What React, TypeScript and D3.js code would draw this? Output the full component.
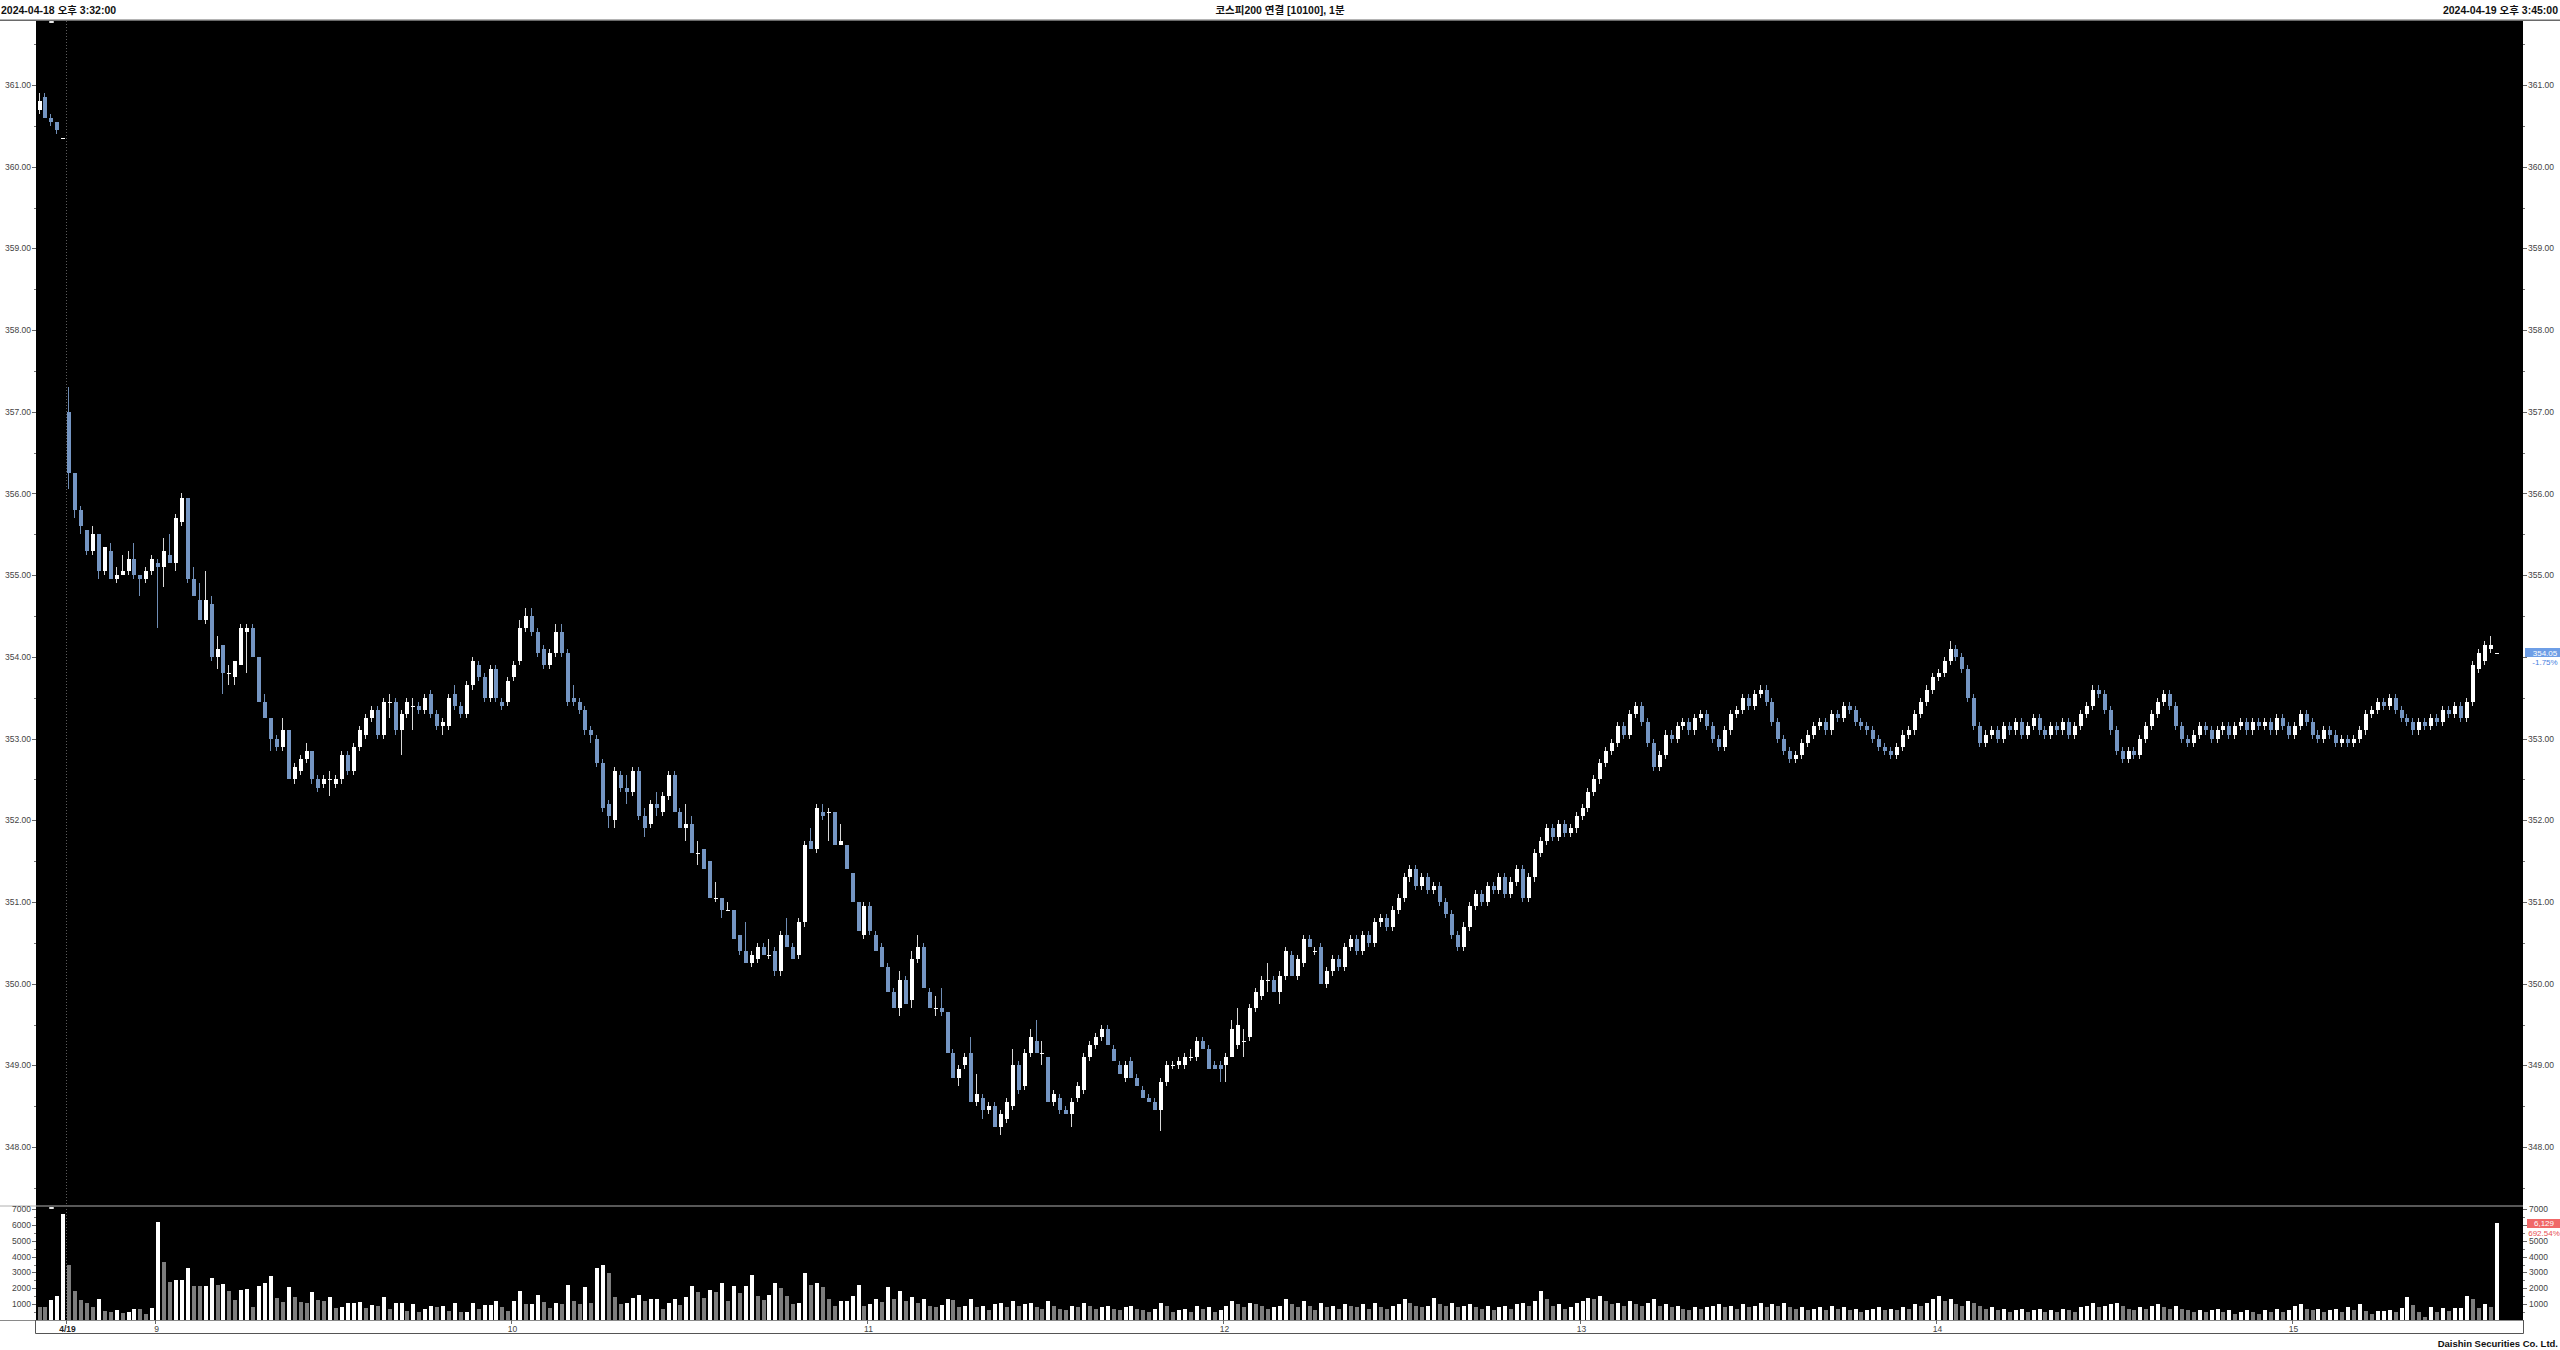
import React from 'react';
import * as d3 from 'd3';

// [open, high, low, close, volume] per 1-minute bar, grouped by session hour
type Bar = [number, number, number, number, number];

const barsPrevDay: Bar[] = [
  [360.70, 360.90, 360.65, 360.80, 840],
  [360.85, 360.90, 360.60, 360.60, 800],
  [360.60, 360.65, 360.50, 360.55, 1260],
  [360.55, 360.55, 360.40, 360.45, 1510],
  [360.35, 360.35, 360.35, 360.35, 6680],
];

const bars0845: Bar[] = [
  [357.00, 357.30, 356.05, 356.25, 3470],
  [356.25, 356.25, 355.70, 355.80, 1830],
  [355.80, 355.85, 355.50, 355.60, 1260],
  [355.55, 355.55, 355.25, 355.30, 1050],
  [355.30, 355.60, 355.25, 355.50, 820],
  [355.50, 355.50, 354.95, 355.05, 1330],
  [355.05, 355.35, 355.00, 355.35, 570],
  [355.30, 355.40, 354.95, 354.95, 500],
  [354.95, 355.10, 354.90, 355.00, 610],
  [355.00, 355.25, 355.00, 355.05, 420],
  [355.05, 355.30, 355.00, 355.20, 530],
  [355.20, 355.40, 354.95, 355.00, 690],
  [355.00, 355.00, 354.75, 354.95, 670],
  [354.95, 355.10, 354.90, 355.05, 360],
  [355.05, 355.25, 355.00, 355.20, 780],
];

const bars0900: Bar[] = [
  [355.15, 355.20, 354.35, 355.10, 6180],
  [355.10, 355.45, 354.85, 355.30, 3680],
  [355.25, 355.50, 355.15, 355.15, 2400],
  [355.15, 355.75, 355.05, 355.70, 2540],
  [355.65, 356.00, 355.60, 355.95, 2540],
  [355.95, 355.95, 354.90, 354.95, 3300],
  [354.95, 355.10, 354.75, 354.75, 2150],
  [354.70, 354.90, 354.45, 354.45, 2120],
  [354.45, 355.05, 354.40, 354.70, 2160],
  [354.65, 354.75, 353.95, 354.00, 2630],
  [354.00, 354.25, 353.85, 354.10, 2210],
  [354.15, 354.15, 353.55, 353.80, 2270],
  [353.80, 353.90, 353.65, 353.80, 1830],
  [353.75, 353.95, 353.65, 353.95, 1290],
  [353.90, 354.40, 353.90, 354.35, 1870],
  [354.30, 354.40, 353.80, 354.35, 1950],
  [354.35, 354.40, 354.00, 354.00, 820],
  [354.00, 354.00, 353.45, 353.45, 2120],
  [353.45, 353.55, 353.25, 353.25, 2330],
  [353.25, 353.25, 352.85, 353.00, 2750],
  [353.00, 353.05, 352.85, 352.90, 1410],
  [352.90, 353.25, 352.85, 353.10, 1160],
  [353.10, 353.10, 352.50, 352.50, 2080],
  [352.50, 352.70, 352.45, 352.65, 1450],
  [352.60, 352.80, 352.55, 352.75, 1130],
  [352.75, 352.95, 352.70, 352.85, 1050],
  [352.85, 352.85, 352.45, 352.50, 1750],
  [352.50, 352.55, 352.35, 352.40, 1260],
  [352.45, 352.55, 352.40, 352.50, 1220],
  [352.50, 352.60, 352.30, 352.50, 1430],
  [352.45, 352.55, 352.40, 352.50, 760],
  [352.50, 352.85, 352.45, 352.80, 820],
  [352.80, 352.85, 352.55, 352.60, 1050],
  [352.60, 352.95, 352.55, 352.90, 1090],
  [352.90, 353.15, 352.85, 353.10, 1110],
  [353.05, 353.30, 353.00, 353.25, 760],
  [353.25, 353.40, 353.20, 353.35, 950],
  [353.35, 353.40, 353.00, 353.05, 860],
  [353.05, 353.50, 353.00, 353.45, 1430],
  [353.45, 353.55, 353.25, 353.45, 670],
  [353.45, 353.50, 353.05, 353.10, 1090],
  [353.10, 353.35, 352.80, 353.30, 1090],
  [353.30, 353.50, 353.25, 353.45, 550],
  [353.40, 353.50, 353.10, 353.40, 990],
  [353.40, 353.45, 353.30, 353.35, 500],
  [353.35, 353.55, 353.30, 353.50, 710],
  [353.55, 353.60, 353.25, 353.30, 860],
  [353.30, 353.35, 353.10, 353.15, 840],
  [353.15, 353.25, 353.05, 353.20, 860],
  [353.15, 353.55, 353.10, 353.50, 590],
  [353.55, 353.65, 353.35, 353.40, 1050],
  [353.40, 353.45, 353.25, 353.30, 480],
  [353.30, 353.70, 353.25, 353.65, 480],
  [353.65, 354.00, 353.60, 353.95, 1050],
  [353.90, 353.95, 353.70, 353.75, 710],
  [353.75, 353.80, 353.45, 353.50, 950],
  [353.50, 353.90, 353.45, 353.85, 950],
  [353.85, 353.90, 353.45, 353.50, 1220],
  [353.45, 353.50, 353.35, 353.40, 840],
  [353.45, 353.75, 353.40, 353.70, 550],
];

const bars1000: Bar[] = [
  [353.75, 353.95, 353.70, 353.90, 1180],
  [353.95, 354.45, 353.90, 354.35, 1850],
  [354.35, 354.60, 354.30, 354.50, 990],
  [354.50, 354.60, 354.25, 354.30, 990],
  [354.30, 354.35, 354.00, 354.05, 1575],
  [354.10, 354.15, 353.85, 353.90, 1135],
  [353.90, 354.10, 353.85, 354.05, 760],
  [354.05, 354.40, 354.00, 354.30, 1090],
  [354.30, 354.40, 354.00, 354.05, 1010],
  [354.05, 354.10, 353.40, 353.45, 2230],
  [353.50, 353.65, 353.40, 353.45, 1180],
  [353.45, 353.50, 353.30, 353.35, 990],
  [353.35, 353.40, 353.05, 353.10, 2100],
  [353.10, 353.15, 352.95, 353.05, 1050],
  [353.00, 353.05, 352.65, 352.70, 3300],
  [352.70, 352.75, 352.10, 352.15, 3450],
  [352.20, 352.25, 351.90, 352.05, 2950],
  [352.00, 352.65, 351.90, 352.60, 1470],
  [352.55, 352.60, 352.35, 352.40, 1010],
  [352.40, 352.55, 352.20, 352.35, 1050],
  [352.35, 352.65, 352.30, 352.60, 1390],
  [352.60, 352.65, 352.00, 352.05, 1600],
  [352.05, 352.15, 351.80, 351.90, 1220],
  [351.95, 352.25, 351.90, 352.20, 1300],
  [352.20, 352.35, 352.05, 352.15, 1320],
  [352.10, 352.35, 352.05, 352.30, 710],
  [352.30, 352.60, 352.25, 352.55, 1090],
  [352.55, 352.60, 352.10, 352.10, 1350],
  [352.10, 352.15, 351.90, 351.90, 970],
  [351.90, 352.20, 351.75, 351.95, 1430],
  [351.95, 352.05, 351.60, 351.60, 2140],
  [351.60, 351.75, 351.45, 351.60, 1760],
  [351.65, 351.65, 351.40, 351.40, 1360],
  [351.50, 351.50, 351.05, 351.05, 1890],
  [351.05, 351.25, 351.00, 351.05, 1790],
  [351.05, 351.05, 350.80, 350.90, 2310],
  [350.90, 351.00, 350.90, 350.90, 1180],
  [350.90, 350.90, 350.55, 350.55, 2140],
  [350.60, 350.60, 350.35, 350.40, 1720],
  [350.40, 350.75, 350.25, 350.25, 2140],
  [350.25, 350.40, 350.20, 350.35, 2850],
  [350.30, 350.50, 350.25, 350.45, 1510],
  [350.45, 350.50, 350.35, 350.35, 1260],
  [350.35, 350.55, 350.30, 350.35, 1550],
  [350.40, 350.45, 350.10, 350.15, 2350],
  [350.15, 350.65, 350.10, 350.60, 2000],
  [350.60, 350.80, 350.45, 350.45, 1510],
  [350.45, 350.50, 350.30, 350.30, 1010],
  [350.35, 350.80, 350.30, 350.75, 1050],
  [350.75, 351.75, 350.70, 351.70, 2950],
  [351.75, 351.90, 351.65, 351.65, 2210],
  [351.65, 352.20, 351.60, 352.15, 2350],
  [352.10, 352.20, 352.00, 352.05, 2060],
  [352.10, 352.15, 351.75, 352.10, 1300],
  [352.10, 352.10, 351.70, 351.70, 880],
  [351.70, 351.95, 351.70, 351.75, 1180],
  [351.70, 351.70, 351.40, 351.40, 1180],
  [351.35, 351.35, 351.00, 351.00, 1510],
  [351.00, 351.00, 350.65, 350.65, 2230],
  [350.60, 351.00, 350.55, 350.95, 880],
];

const bars1100: Bar[] = [
  [350.95, 351.00, 350.60, 350.65, 1010],
  [350.60, 350.65, 350.40, 350.40, 1300],
  [350.45, 350.50, 350.20, 350.20, 1135],
  [350.20, 350.25, 349.90, 349.90, 2100],
  [349.90, 349.95, 349.70, 349.70, 1350],
  [349.70, 350.15, 349.60, 350.05, 1810],
  [350.05, 350.10, 349.75, 349.75, 1200],
  [349.80, 350.40, 349.70, 350.30, 1450],
  [350.30, 350.60, 350.25, 350.45, 1100],
  [350.45, 350.50, 349.95, 349.95, 1350],
  [349.90, 349.95, 349.70, 349.70, 900],
  [349.70, 349.85, 349.60, 349.70, 800],
  [349.70, 349.95, 349.60, 349.65, 950],
  [349.65, 349.65, 349.15, 349.15, 1300],
  [349.15, 349.20, 348.85, 348.85, 1250],
  [348.85, 349.00, 348.75, 348.95, 800],
  [349.00, 349.15, 348.95, 349.10, 900],
  [349.15, 349.35, 348.55, 348.55, 1300],
  [348.55, 348.90, 348.50, 348.65, 850],
  [348.60, 348.65, 348.35, 348.45, 900],
  [348.45, 348.55, 348.40, 348.50, 600],
  [348.50, 348.55, 348.25, 348.25, 1000],
  [348.25, 348.45, 348.15, 348.40, 1100],
  [348.35, 348.60, 348.30, 348.55, 800],
  [348.50, 349.20, 348.45, 349.00, 1200],
  [349.00, 349.05, 348.65, 348.70, 900],
  [348.75, 349.20, 348.70, 349.15, 1000],
  [349.15, 349.45, 349.10, 349.35, 1100],
  [349.30, 349.55, 349.15, 349.15, 800],
  [349.15, 349.30, 349.00, 349.15, 700],
  [349.10, 349.10, 348.55, 348.55, 1200],
  [348.55, 348.70, 348.50, 348.65, 900],
  [348.60, 348.65, 348.40, 348.45, 700],
  [348.45, 348.50, 348.40, 348.40, 600],
  [348.40, 348.60, 348.25, 348.55, 900],
  [348.60, 348.80, 348.55, 348.75, 800],
  [348.70, 349.15, 348.65, 349.10, 1100],
  [349.10, 349.30, 349.05, 349.25, 900],
  [349.25, 349.40, 349.20, 349.35, 700],
  [349.35, 349.50, 349.30, 349.45, 800],
  [349.45, 349.50, 349.25, 349.25, 900],
  [349.20, 349.25, 349.05, 349.05, 700],
  [349.00, 349.05, 348.90, 348.90, 600],
  [348.85, 349.05, 348.80, 349.00, 800],
  [349.05, 349.10, 348.85, 348.85, 900],
  [348.85, 348.90, 348.75, 348.75, 700],
  [348.70, 348.75, 348.60, 348.60, 600],
  [348.60, 348.65, 348.55, 348.55, 500],
  [348.55, 348.60, 348.45, 348.45, 700],
  [348.45, 348.85, 348.20, 348.80, 1100],
  [348.80, 349.05, 348.75, 349.00, 900],
  [349.00, 349.05, 348.95, 349.00, 500],
  [349.00, 349.10, 348.95, 349.05, 600],
  [349.00, 349.15, 348.95, 349.10, 700],
  [349.10, 349.20, 349.05, 349.10, 500],
  [349.10, 349.35, 349.05, 349.30, 900],
  [349.30, 349.35, 349.20, 349.20, 700],
  [349.20, 349.25, 348.95, 348.95, 800],
  [349.00, 349.05, 348.95, 348.95, 500],
  [349.00, 349.05, 348.80, 348.95, 600],
];

const bars1200: Bar[] = [
  [349.00, 349.15, 348.80, 349.10, 900],
  [349.10, 349.55, 349.10, 349.45, 1200],
  [349.25, 349.70, 349.20, 349.50, 1000],
  [349.30, 349.45, 349.10, 349.30, 800],
  [349.35, 349.75, 349.30, 349.70, 1100],
  [349.70, 349.95, 349.65, 349.90, 1000],
  [349.85, 350.10, 349.80, 350.05, 900],
  [350.05, 350.25, 349.90, 350.05, 700],
  [350.05, 350.10, 349.90, 349.90, 800],
  [349.90, 350.15, 349.75, 350.10, 900],
  [350.10, 350.45, 350.05, 350.40, 1300],
  [350.35, 350.40, 350.10, 350.10, 1000],
  [350.10, 350.35, 350.05, 350.30, 800],
  [350.25, 350.60, 350.20, 350.55, 1200],
  [350.55, 350.60, 350.45, 350.45, 900],
  [350.40, 350.45, 350.35, 350.40, 600],
  [350.45, 350.50, 350.00, 350.00, 1100],
  [350.00, 350.20, 349.95, 350.15, 800],
  [350.15, 350.35, 350.10, 350.30, 900],
  [350.30, 350.35, 350.15, 350.20, 700],
  [350.20, 350.50, 350.15, 350.45, 1000],
  [350.45, 350.60, 350.40, 350.55, 900],
  [350.55, 350.60, 350.35, 350.40, 800],
  [350.40, 350.65, 350.35, 350.60, 1000],
  [350.60, 350.65, 350.45, 350.50, 700],
  [350.50, 350.80, 350.45, 350.75, 1100],
  [350.75, 350.85, 350.70, 350.80, 800],
  [350.80, 350.85, 350.65, 350.70, 700],
  [350.70, 350.95, 350.65, 350.90, 900],
  [350.90, 351.10, 350.85, 351.05, 1000],
  [351.05, 351.35, 351.00, 351.30, 1300],
  [351.30, 351.45, 351.25, 351.40, 1100],
  [351.40, 351.45, 351.15, 351.20, 900],
  [351.20, 351.35, 351.15, 351.30, 800],
  [351.30, 351.35, 351.10, 351.15, 900],
  [351.15, 351.25, 351.10, 351.20, 1400],
  [351.20, 351.25, 350.95, 351.00, 1000],
  [351.00, 351.05, 350.80, 350.85, 900],
  [350.85, 350.90, 350.55, 350.60, 1100],
  [350.60, 350.65, 350.40, 350.45, 800],
  [350.45, 350.75, 350.40, 350.70, 900],
  [350.70, 351.00, 350.65, 350.95, 1000],
  [350.95, 351.15, 350.90, 351.10, 800],
  [351.10, 351.15, 350.95, 351.00, 700],
  [351.00, 351.25, 350.95, 351.20, 900],
  [351.20, 351.25, 351.10, 351.15, 600],
  [351.15, 351.35, 351.10, 351.30, 800],
  [351.30, 351.35, 351.05, 351.10, 900],
  [351.10, 351.30, 351.05, 351.25, 700],
  [351.25, 351.45, 351.20, 351.40, 1000],
  [351.40, 351.45, 351.00, 351.05, 1100],
  [351.05, 351.35, 351.00, 351.30, 900],
  [351.30, 351.65, 351.25, 351.60, 1200],
  [351.60, 351.80, 351.55, 351.75, 1800],
  [351.75, 351.95, 351.70, 351.90, 1300],
  [351.90, 351.95, 351.75, 351.80, 900],
  [351.80, 352.00, 351.75, 351.95, 1000],
  [351.95, 352.00, 351.80, 351.85, 700],
  [351.85, 351.95, 351.80, 351.90, 800],
  [351.90, 352.10, 351.85, 352.05, 1100],
];

const bars1300: Bar[] = [
  [352.05, 352.20, 352.00, 352.15, 1200],
  [352.15, 352.40, 352.10, 352.35, 1400],
  [352.35, 352.55, 352.30, 352.50, 1300],
  [352.50, 352.75, 352.45, 352.70, 1500],
  [352.70, 352.90, 352.65, 352.85, 1200],
  [352.85, 353.00, 352.80, 352.95, 1000],
  [352.95, 353.20, 352.90, 353.15, 1100],
  [353.15, 353.20, 353.00, 353.05, 900],
  [353.05, 353.35, 353.00, 353.30, 1200],
  [353.30, 353.45, 353.25, 353.40, 1000],
  [353.40, 353.45, 353.15, 353.20, 900],
  [353.20, 353.25, 352.90, 352.95, 1100],
  [352.95, 353.00, 352.60, 352.65, 1300],
  [352.65, 352.85, 352.60, 352.80, 900],
  [352.80, 353.10, 352.75, 353.05, 1000],
  [353.05, 353.10, 352.95, 353.00, 800],
  [353.00, 353.20, 352.95, 353.15, 900],
  [353.15, 353.25, 353.10, 353.20, 700],
  [353.20, 353.25, 353.05, 353.10, 600],
  [353.10, 353.30, 353.05, 353.25, 800],
  [353.25, 353.35, 353.20, 353.30, 700],
  [353.30, 353.35, 353.10, 353.15, 800],
  [353.15, 353.20, 352.95, 353.00, 900],
  [353.00, 353.05, 352.85, 352.90, 1000],
  [352.90, 353.15, 352.85, 353.10, 800],
  [353.10, 353.35, 353.05, 353.30, 900],
  [353.30, 353.40, 353.25, 353.35, 700],
  [353.35, 353.55, 353.30, 353.50, 1000],
  [353.50, 353.55, 353.35, 353.40, 800],
  [353.40, 353.60, 353.35, 353.55, 900],
  [353.55, 353.65, 353.50, 353.60, 1100],
  [353.60, 353.65, 353.40, 353.45, 800],
  [353.45, 353.50, 353.15, 353.20, 1000],
  [353.20, 353.25, 352.95, 353.00, 900],
  [353.00, 353.05, 352.80, 352.85, 1100],
  [352.85, 352.90, 352.70, 352.75, 800],
  [352.75, 352.85, 352.70, 352.80, 700],
  [352.80, 353.00, 352.75, 352.95, 800],
  [352.95, 353.10, 352.90, 353.05, 600],
  [353.05, 353.20, 353.00, 353.15, 700],
  [353.15, 353.25, 353.10, 353.20, 800],
  [353.20, 353.25, 353.05, 353.10, 600],
  [353.10, 353.35, 353.05, 353.30, 900],
  [353.30, 353.35, 353.20, 353.25, 700],
  [353.25, 353.45, 353.20, 353.40, 800],
  [353.40, 353.45, 353.30, 353.35, 600],
  [353.35, 353.40, 353.15, 353.20, 700],
  [353.20, 353.25, 353.10, 353.15, 500],
  [353.15, 353.20, 353.05, 353.10, 600],
  [353.10, 353.15, 352.95, 353.00, 700],
  [353.00, 353.05, 352.85, 352.90, 800],
  [352.90, 352.95, 352.80, 352.85, 600],
  [352.85, 352.90, 352.75, 352.80, 700],
  [352.80, 352.95, 352.75, 352.90, 600],
  [352.90, 353.10, 352.85, 353.05, 800],
  [353.05, 353.15, 353.00, 353.10, 700],
  [353.10, 353.35, 353.05, 353.30, 1000],
  [353.30, 353.50, 353.25, 353.45, 900],
  [353.45, 353.65, 353.40, 353.60, 1100],
  [353.60, 353.80, 353.55, 353.75, 1300],
];

const bars1400: Bar[] = [
  [353.75, 353.85, 353.70, 353.80, 1500],
  [353.80, 354.00, 353.75, 353.95, 1200],
  [353.95, 354.20, 353.90, 354.10, 1300],
  [354.10, 354.15, 353.95, 354.00, 1000],
  [354.00, 354.05, 353.80, 353.85, 900],
  [353.85, 353.90, 353.45, 353.50, 1200],
  [353.50, 353.55, 353.10, 353.15, 1100],
  [353.15, 353.20, 352.90, 352.95, 900],
  [352.95, 353.10, 352.90, 353.05, 700],
  [353.05, 353.15, 353.00, 353.10, 800],
  [353.10, 353.15, 352.95, 353.00, 600],
  [353.00, 353.20, 352.95, 353.15, 700],
  [353.15, 353.20, 353.05, 353.10, 500],
  [353.10, 353.25, 353.05, 353.20, 600],
  [353.20, 353.25, 353.00, 353.05, 700],
  [353.05, 353.20, 353.00, 353.15, 500],
  [353.15, 353.30, 353.10, 353.25, 600],
  [353.25, 353.30, 353.05, 353.10, 700],
  [353.10, 353.15, 353.00, 353.05, 500],
  [353.05, 353.20, 353.00, 353.15, 600],
  [353.15, 353.20, 353.05, 353.10, 500],
  [353.10, 353.25, 353.05, 353.20, 700],
  [353.20, 353.25, 353.00, 353.05, 600],
  [353.05, 353.20, 353.00, 353.15, 500],
  [353.15, 353.35, 353.10, 353.30, 800],
  [353.30, 353.45, 353.25, 353.40, 900],
  [353.40, 353.65, 353.35, 353.60, 1100],
  [353.60, 353.65, 353.50, 353.55, 800],
  [353.55, 353.60, 353.30, 353.35, 900],
  [353.35, 353.40, 353.05, 353.10, 1000],
  [353.10, 353.15, 352.80, 352.85, 1100],
  [352.85, 352.90, 352.70, 352.75, 900],
  [352.75, 352.90, 352.70, 352.85, 700],
  [352.85, 352.90, 352.75, 352.80, 600],
  [352.80, 353.05, 352.75, 353.00, 800],
  [353.00, 353.20, 352.95, 353.15, 700],
  [353.15, 353.35, 353.10, 353.30, 900],
  [353.30, 353.50, 353.25, 353.45, 1000],
  [353.45, 353.60, 353.40, 353.55, 800],
  [353.55, 353.60, 353.35, 353.40, 700],
  [353.40, 353.45, 353.10, 353.15, 900],
  [353.15, 353.20, 352.95, 353.00, 700],
  [353.00, 353.05, 352.90, 352.95, 600],
  [352.95, 353.10, 352.90, 353.05, 500],
  [353.05, 353.20, 353.00, 353.15, 600],
  [353.15, 353.20, 353.05, 353.10, 500],
  [353.10, 353.15, 352.95, 353.00, 600],
  [353.00, 353.15, 352.95, 353.10, 700],
  [353.10, 353.20, 353.05, 353.15, 500],
  [353.15, 353.20, 353.00, 353.05, 600],
  [353.05, 353.20, 353.00, 353.15, 400],
  [353.15, 353.25, 353.10, 353.20, 500],
  [353.20, 353.25, 353.05, 353.10, 600],
  [353.10, 353.25, 353.05, 353.20, 500],
  [353.20, 353.25, 353.10, 353.15, 400],
  [353.15, 353.25, 353.10, 353.20, 600],
  [353.20, 353.25, 353.05, 353.10, 500],
  [353.10, 353.30, 353.05, 353.25, 700],
  [353.25, 353.30, 353.10, 353.15, 500],
  [353.15, 353.20, 353.00, 353.05, 600],
];

const bars1500: Bar[] = [
  [353.05, 353.20, 353.00, 353.15, 900],
  [353.15, 353.35, 353.10, 353.30, 1000],
  [353.30, 353.35, 353.15, 353.20, 700],
  [353.20, 353.25, 353.00, 353.05, 600],
  [353.05, 353.10, 352.95, 353.00, 700],
  [353.00, 353.15, 352.95, 353.10, 500],
  [353.10, 353.15, 353.00, 353.05, 600],
  [353.05, 353.10, 352.90, 352.95, 700],
  [352.95, 353.05, 352.90, 353.00, 500],
  [353.00, 353.05, 352.90, 352.95, 800],
  [352.95, 353.05, 352.90, 353.00, 630],
  [353.00, 353.15, 352.95, 353.10, 1010],
  [353.10, 353.35, 353.05, 353.30, 590],
  [353.30, 353.40, 353.25, 353.35, 360],
  [353.35, 353.50, 353.30, 353.45, 590],
  [353.45, 353.50, 353.35, 353.40, 590],
  [353.40, 353.55, 353.35, 353.50, 630],
  [353.50, 353.55, 353.30, 353.35, 500],
  [353.35, 353.40, 353.20, 353.25, 770],
  [353.25, 353.30, 353.15, 353.20, 1460],
  [353.20, 353.25, 353.05, 353.10, 950],
  [353.10, 353.25, 353.05, 353.20, 530],
  [353.20, 353.25, 353.10, 353.15, 210],
  [353.15, 353.30, 353.10, 353.25, 800],
  [353.25, 353.30, 353.15, 353.20, 500],
  [353.20, 353.40, 353.15, 353.35, 740],
  [353.35, 353.40, 353.25, 353.30, 550],
  [353.30, 353.45, 353.25, 353.40, 740],
  [353.40, 353.45, 353.20, 353.25, 780],
  [353.25, 353.50, 353.20, 353.45, 1510],
  [353.45, 353.95, 353.40, 353.90, 1300],
  [353.85, 354.10, 353.80, 354.05, 740],
  [353.95, 354.20, 353.90, 354.15, 990],
  [354.10, 354.25, 354.05, 354.15, 840],
  [354.05, 354.05, 354.05, 354.05, 6129],
];

const sessions: Bar[][] = [barsPrevDay, bars0845, bars0900, bars1000, bars1100, bars1200, bars1300, bars1400, bars1500];
const sessionLabels = ['', '4/19', '9', '10', '11', '12', '13', '14', '15'];
const priceTicks = [348, 349, 350, 351, 352, 353, 354, 355, 356, 357, 358, 359, 360, 361];
const priceMinorTicks = [347.5, 348.5, 349.5, 350.5, 351.5, 352.5, 353.5, 354.5, 355.5, 356.5, 357.5, 358.5, 359.5, 360.5, 361.5];
const volumeTicks = [1000, 2000, 3000, 4000, 5000, 6000, 7000];
const volumeMinorTicks = [500, 1500, 2500, 3500, 4500, 5500, 6500];

const headerLeft = '2024-04-18 오후 3:32:00';
const headerTitle = '코스피200 연결 [10100], 1분';
const headerRight = '2024-04-19 오후 3:45:00';
const lastPriceText = '354.05';
const lastChangeText = '-1.75%';
const lastVolumeText = '6,129';
const lastVolumeRatioText = '692.54%';
const footerText = 'Daishin Securities Co. Ltd.';

const W = 2560;
const H = 1350;
const L = 36;
const R = 2523;
const PT = 21;
const VB = 1320;
const FONT = "'Liberation Sans', Arial, 'Noto Sans CJK KR', sans-serif";
const UP = '#ffffff';
const DOWN = '#7495c2';

export default function App() {
  const bars: Bar[] = sessions.flat();
  const starts: number[] = [];
  let acc = 0;
  sessions.forEach((s) => { starts.push(acc); acc += s.length; });
  const n = bars.length;

  const x = d3.scaleLinear().domain([0, n - 1]).range([39.5, 2496.5]);
  const y = d3.scaleLinear().domain([348, 361]).range([1147.1, 85]);
  const yv = d3.scaleLinear().domain([0, 7000]).range([1320, 1209]);

  const bodyW = 4;
  const dayLineX = Math.round(x(starts[1] - 0.5)) + 0.5;
  const lastY = Math.round(y(bars[n - 1][3]));

  return (
    <svg width={W} height={H} viewBox={`0 0 ${W} ${H}`} style={{ position: 'absolute', left: 0, top: 0, background: '#fff' }} fontFamily={FONT}>
      <rect x={0} y={0} width={W} height={H} fill="#fff" />
      {/* header */}
      <text x={1} y={14} fontSize={10.5} fontWeight="bold" fill="#111">{headerLeft}</text>
      <text x={1280} y={14} fontSize={10.5} fontWeight="bold" fill="#111" textAnchor="middle">{headerTitle}</text>
      <text x={2558} y={14} fontSize={10.5} fontWeight="bold" fill="#111" textAnchor="end">{headerRight}</text>
      <rect x={0} y={19.5} width={W} height={1.5} fill="#6a6a6a" />

      {/* panes */}
      <rect x={L} y={PT} width={R - L} height={VB - PT} fill="#000" />
      <line x1={0} x2={R} y1={1206} y2={1206} stroke="#b0b0b0" strokeWidth={1} />
      <line x1={0} x2={R} y1={VB + 0.5} y2={VB + 0.5} stroke="#8a8a8a" strokeWidth={1} />
      <line x1={L - 0.5} x2={L - 0.5} y1={VB} y2={1333.5} stroke="#555" strokeWidth={1} />
      <line x1={R + 0.5} x2={R + 0.5} y1={VB} y2={1333.5} stroke="#555" strokeWidth={1} />
      <line x1={L - 0.5} x2={R + 0.5} y1={1333.5} y2={1333.5} stroke="#555" strokeWidth={1} />

      {/* day separator */}
      <line x1={dayLineX} x2={dayLineX} y1={PT} y2={VB} stroke="#5a5a5a" strokeWidth={1} strokeDasharray="1,2" />

      {/* small scroll markers */}
      <rect x={49} y={21} width={5} height={2} rx={1} fill="#e8e8e8" />
      <rect x={49} y={1207} width={5} height={2} rx={1} fill="#e8e8e8" />

      {/* price axis */}
      {priceTicks.map((p) => (
        <g key={'pt' + p}>
          <line x1={32} x2={L} y1={Math.round(y(p)) + 0.5} y2={Math.round(y(p)) + 0.5} stroke="#666" />
          <text x={31} y={y(p) + 3} fontSize={8.5} fill="#444" textAnchor="end">{p.toFixed(2)}</text>
          <line x1={R} x2={R + 4} y1={Math.round(y(p)) + 0.5} y2={Math.round(y(p)) + 0.5} stroke="#666" />
          {Math.abs(p - bars[n - 1][3]) > 0.3 ? (
            <text x={R + 5} y={y(p) + 3} fontSize={8.5} fill="#444">{p.toFixed(2)}</text>
          ) : null}
        </g>
      ))}
      {priceMinorTicks.map((p) => (
        <g key={'pm' + p}>
          <line x1={34} x2={L} y1={Math.round(y(p)) + 0.5} y2={Math.round(y(p)) + 0.5} stroke="#777" />
          <line x1={R} x2={R + 2} y1={Math.round(y(p)) + 0.5} y2={Math.round(y(p)) + 0.5} stroke="#777" />
        </g>
      ))}

      {/* volume axis */}
      {volumeTicks.map((v) => (
        <g key={'vt' + v}>
          <line x1={32} x2={L} y1={Math.round(yv(v)) + 0.5} y2={Math.round(yv(v)) + 0.5} stroke="#666" />
          <text x={31} y={yv(v) + 3} fontSize={8.5} fill="#444" textAnchor="end">{v}</text>
          <line x1={R} x2={R + 4} y1={Math.round(yv(v)) + 0.5} y2={Math.round(yv(v)) + 0.5} stroke="#666" />
          {v !== 6000 ? <text x={R + 6} y={yv(v) + 3} fontSize={8.5} fill="#444">{v}</text> : null}
        </g>
      ))}
      {volumeMinorTicks.map((v) => (
        <g key={'vm' + v}>
          <line x1={34} x2={L} y1={Math.round(yv(v)) + 0.5} y2={Math.round(yv(v)) + 0.5} stroke="#777" />
          <line x1={R} x2={R + 2} y1={Math.round(yv(v)) + 0.5} y2={Math.round(yv(v)) + 0.5} stroke="#777" />
        </g>
      ))}

      {/* time axis */}
      {sessionLabels.map((lab, si) => {
        if (!lab) return null;
        const tx = Math.round(x(starts[si] - 0.5)) + 0.5;
        return (
          <g key={'tl' + si}>
            <line x1={tx} x2={tx} y1={VB} y2={VB + 4} stroke="#666" />
            <text x={tx + 1} y={1332} fontSize={8.5} fill={si === 1 ? '#222' : '#444'} fontWeight={si === 1 ? 'bold' : 'normal'} textAnchor="middle">{lab}</text>
          </g>
        );
      })}

      {/* candles */}
      <g shapeRendering="crispEdges">
        {bars.map((b, i) => {
          const [o, h, l, c] = b;
          const bx = Math.round(x(i) - bodyW / 2);
          const up = c >= o;
          const col = up ? UP : DOWN;
          const top = Math.round(y(Math.max(o, c)));
          const bot = Math.round(y(Math.min(o, c)));
          const hy = Math.round(y(h));
          const ly = Math.round(y(l));
          return (
            <g key={'c' + i}>
              <rect x={bx + 1} y={hy} width={1} height={Math.max(1, ly - hy)} fill={up ? '#d8d8d8' : '#6f8db5'} />
              <rect x={bx} y={top} width={bodyW} height={Math.max(1, bot - top)} fill={col} />
            </g>
          );
        })}
      </g>

      {/* volume */}
      <g shapeRendering="crispEdges">
        {bars.map((b, i) => {
          const v = b[4];
          const prev = i > 0 ? bars[i - 1][4] : Infinity;
          const col = v >= prev ? '#ffffff' : '#7d7d7d';
          const bx = Math.round(x(i) - bodyW / 2);
          const top = Math.round(yv(v));
          return <rect key={'v' + i} x={bx} y={top} width={bodyW} height={VB - top} fill={col} />;
        })}
      </g>

      {/* last price tag */}
      <rect x={R + 2} y={lastY - 5} width={W - R - 2} height={9} fill="#6e9ee6" />
      <text x={2545} y={lastY + 2.5} fontSize={8} fill="#fff" textAnchor="middle">{lastPriceText}</text>
      <text x={2545} y={lastY + 12} fontSize={8} fill="#4a7fe0" textAnchor="middle">{lastChangeText}</text>

      {/* last volume tag */}
      <rect x={R + 4} y={1219} width={W - R - 4} height={9} fill="#f06868" />
      <text x={2544} y={1226} fontSize={8} fill="#fff" textAnchor="middle">{lastVolumeText}</text>
      <text x={2544} y={1236} fontSize={8} fill="#e85050" textAnchor="middle">{lastVolumeRatioText}</text>

      {/* footer */}
      <text x={2558} y={1347} fontSize={9.5} fontWeight="bold" fill="#111" textAnchor="end">{footerText}</text>
    </svg>
  );
}
